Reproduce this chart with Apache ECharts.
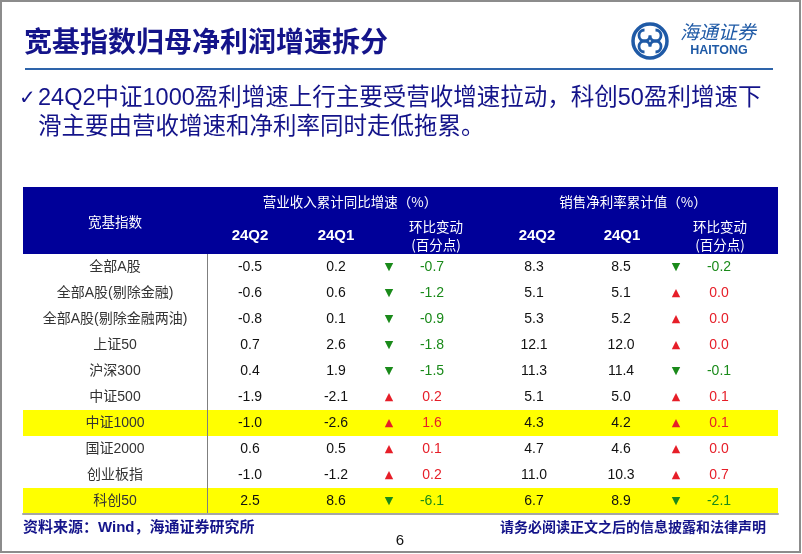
<!DOCTYPE html>
<html>
<head>
<meta charset="utf-8">
<script src="https://cdn.jsdelivr.net/npm/echarts@6/dist/echarts.min.js"></script>
<style>
  html, body { margin: 0; padding: 0; background: #fff; }
  #chart { width: 802px; height: 554px; }
</style>
</head>
<body>
<div id="chart"></div>
<script>
// rows of the table
const indices = ['全部A股', '全部A股(剔除金融)', '全部A股(剔除金融两油)', '上证50', '沪深300',
  '中证500', '中证1000', '国证2000', '创业板指', '科创50'];
const highlightRows = ['中证1000', '科创50'];

// 营业收入累计同比增速 (%)
const revenueQ2 = [-0.5, -0.6, -0.8, 0.7, 0.4, -1.9, -1.0, 0.6, -1.0, 2.5];
const revenueQ1 = [0.2, 0.6, 0.1, 2.6, 1.9, -2.1, -2.6, 0.5, -1.2, 8.6];
const revenueChange = [-0.7, -1.2, -0.9, -1.8, -1.5, 0.2, 1.6, 0.1, 0.2, -6.1];

// 销售净利率累计值 (%)
const marginQ2 = [8.3, 5.1, 5.3, 12.1, 11.3, 5.1, 4.3, 4.7, 11.0, 6.7];
const marginQ1 = [8.5, 5.1, 5.2, 12.0, 11.4, 5.0, 4.2, 4.6, 10.3, 8.9];
const marginChange = [-0.2, 0.0, 0.0, 0.0, -0.1, 0.1, 0.1, 0.0, 0.7, -2.1];

// header texts
const groupTitles = ['营业收入累计同比增速（%）', '销售净利率累计值（%）'];
const periodLabels = ['24Q2', '24Q1'];
const changeLabel = ['环比变动', '(百分点)'];

const NAVY = '#14148a';
const HEAD_BG = '#000099';
const RED = '#e61e28';
const GREEN = '#1a8a1a';
const CJK = '"Noto Sans CJK SC", sans-serif';
const LATIN = '"Liberation Sans", "Noto Sans CJK SC", sans-serif';

// table spans x 23..778 in pixels, columns are laid out along that range
const XL = 23, XR = 778;
const col = {
  name: 115, revQ2: 250, revQ1: 336, revArrow: 389, revChg: 432,
  mQ2: 534, mQ1: 621, mArrow: 676, mChg: 719
};

const fmt = v => v.toFixed(1);
const signColor = v => (v >= 0 ? RED : GREEN);

function textColumn(values, x, text, color, font) {
  return {
    type: 'custom',
    coordinateSystem: 'cartesian2d',
    silent: true,
    z: 3,
    encode: { x: 0, y: 1 },
    data: values.map((v, i) => [x, i]),
    renderItem: (params, api) => {
      const p = api.coord([api.value(0), api.value(1)]);
      const v = values[params.dataIndex];
      return {
        type: 'text', x: p[0], y: p[1],
        style: { text: text(v), fill: color(v), font: font, align: 'center', verticalAlign: 'middle' }
      };
    }
  };
}

const numFont = '14px "Liberation Sans", sans-serif';
const arrowFont = '11px "DejaVu Sans", sans-serif';
const arrow = v => (v >= 0 ? '▲' : '▼');

const series = [
  {
    // yellow highlighted rows
    type: 'custom',
    coordinateSystem: 'cartesian2d',
    silent: true,
    z: 1,
    encode: { x: 0, y: 1 },
    data: highlightRows.map(n => [XL, indices.indexOf(n)]),
    renderItem: (params, api) => {
      const a = api.coord([XL, api.value(1)]);
      const b = api.coord([XR, api.value(1)]);
      const h = api.size([0, 1])[1];
      return {
        type: 'rect',
        shape: { x: a[0], y: a[1] - h / 2, width: b[0] - a[0], height: h },
        style: { fill: '#ffff00' }
      };
    }
  },
  textColumn(revenueQ2, col.revQ2, fmt, () => '#111', numFont),
  textColumn(revenueQ1, col.revQ1, fmt, () => '#111', numFont),
  textColumn(revenueChange, col.revArrow, arrow, signColor, arrowFont),
  textColumn(revenueChange, col.revChg, fmt, signColor, numFont),
  textColumn(marginQ2, col.mQ2, fmt, () => '#111', numFont),
  textColumn(marginQ1, col.mQ1, fmt, () => '#111', numFont),
  textColumn(marginChange, col.mArrow, arrow, signColor, arrowFont),
  textColumn(marginChange, col.mChg, fmt, signColor, numFont)
];

function headText(text, x, y, font, align) {
  return {
    type: 'text', x: x, y: y, z: 20,
    style: { text: text, font: font, fill: '#fff', align: align || 'center', verticalAlign: 'middle' }
  };
}

const headCjk = '13.5px ' + CJK;
const headNum = 'bold 15px "Liberation Sans", sans-serif';

const graphic = [
  // slide frame
  { type: 'rect', z: 0, shape: { x: 1, y: 1, width: 799, height: 551 },
    style: { fill: 'none', stroke: '#8c8c8c', lineWidth: 2 } },
  // title
  { type: 'text', x: 24, y: 41, z: 20,
    style: { text: '宽基指数归母净利润增速拆分', font: 'bold 28px ' + CJK, fill: NAVY, verticalAlign: 'middle' } },
  { type: 'line', z: 20, shape: { x1: 25, y1: 69, x2: 773, y2: 69 },
    style: { stroke: '#2e64aa', lineWidth: 2 } },
  // logo
  { type: 'circle', z: 20, shape: { cx: 650, cy: 41, r: 17 },
    style: { fill: 'none', stroke: '#1f5aa6', lineWidth: 3.5 } },
  { type: 'arc', z: 20, shape: { cx: 644.5, cy: 35.5, r: 5.5, startAngle: 0, endAngle: Math.PI * 1.5 },
    style: { fill: 'none', stroke: '#1f5aa6', lineWidth: 2.8 } },
  { type: 'arc', z: 20, shape: { cx: 655.5, cy: 35.5, r: 5.5, startAngle: -Math.PI * 0.5, endAngle: Math.PI },
    style: { fill: 'none', stroke: '#1f5aa6', lineWidth: 2.8 } },
  { type: 'arc', z: 20, shape: { cx: 644.5, cy: 46.5, r: 5.5, startAngle: Math.PI * 0.5, endAngle: Math.PI * 2 },
    style: { fill: 'none', stroke: '#1f5aa6', lineWidth: 2.8 } },
  { type: 'arc', z: 20, shape: { cx: 655.5, cy: 46.5, r: 5.5, startAngle: Math.PI, endAngle: Math.PI * 2.5 },
    style: { fill: 'none', stroke: '#1f5aa6', lineWidth: 2.8 } },
  { type: 'text', x: 680, y: 32, z: 20,
    style: { text: '海通证券', font: 'italic 19px ' + CJK, fill: '#1f5aa6', verticalAlign: 'middle' } },
  { type: 'text', x: 719, y: 51, z: 20,
    style: { text: 'HAITONG', font: 'bold 12.5px "Liberation Sans", sans-serif', fill: '#1f5aa6', align: 'center', verticalAlign: 'middle' } },
  // bullet
  { type: 'text', x: 19, y: 99, z: 20,
    style: { text: '✓', font: '20px "DejaVu Sans", sans-serif', fill: NAVY, verticalAlign: 'middle' } },
  { type: 'text', x: 38, y: 99, z: 20,
    style: { text: '24Q2中证1000盈利增速上行主要受营收增速拉动，科创50盈利增速下', font: '23.5px ' + LATIN, fill: NAVY, verticalAlign: 'middle' } },
  { type: 'text', x: 38, y: 128, z: 20,
    style: { text: '滑主要由营收增速和净利率同时走低拖累。', font: '23.5px ' + LATIN, fill: NAVY, verticalAlign: 'middle' } },
  // table header
  { type: 'rect', z: 19, shape: { x: XL, y: 187, width: XR - XL, height: 67 }, style: { fill: HEAD_BG } },
  headText('宽基指数', col.name, 222, headCjk),
  headText(groupTitles[0], 350, 202, headCjk),
  headText(groupTitles[1], 633, 202, headCjk),
  headText(periodLabels[0], col.revQ2, 236, headNum),
  headText(periodLabels[1], col.revQ1, 236, headNum),
  headText(changeLabel[0], 436, 227, headCjk),
  headText(changeLabel[1], 436, 245, headCjk),
  headText(periodLabels[0], 537, 236, headNum),
  headText(periodLabels[1], 622, 236, headNum),
  headText(changeLabel[0], 720, 227, headCjk),
  headText(changeLabel[1], 720, 245, headCjk),
  // footer
  { type: 'text', x: 23, y: 528, z: 20,
    style: { text: '资料来源：Wind，海通证券研究所', font: 'bold 15px ' + LATIN, fill: NAVY, verticalAlign: 'middle' } },
  { type: 'text', x: 766, y: 527, z: 20,
    style: { text: '请务必阅读正文之后的信息披露和法律声明', font: 'bold 14px ' + CJK, fill: NAVY, align: 'right', verticalAlign: 'middle' } },
  { type: 'text', x: 400, y: 541, z: 20,
    style: { text: '6', font: '15px "Liberation Sans", sans-serif', fill: '#111', align: 'center', verticalAlign: 'middle' } }
];

const chart = echarts.init(document.getElementById('chart'));
chart.setOption({
  animation: false,
  backgroundColor: '#fff',
  grid: { left: XL, right: 802 - XR, top: 254, height: 260 },
  xAxis: {
    type: 'value', min: XL, max: XR, z: 10,
    axisLine: { show: true, lineStyle: { color: '#a6a6a6', width: 2 } },
    axisTick: { show: false },
    axisLabel: { show: false },
    splitLine: { show: false }
  },
  yAxis: {
    type: 'category', data: indices, inverse: true, z: 10,
    offset: -(207 - XL),
    axisLine: { show: true, lineStyle: { color: '#7f7f7f', width: 1 } },
    axisTick: { show: false },
    axisLabel: { margin: 207 - col.name, align: 'center', color: '#333', fontSize: 14, fontFamily: LATIN },
    splitLine: { show: false }
  },
  graphic: graphic,
  series: series
});
</script>
</body>
</html>
